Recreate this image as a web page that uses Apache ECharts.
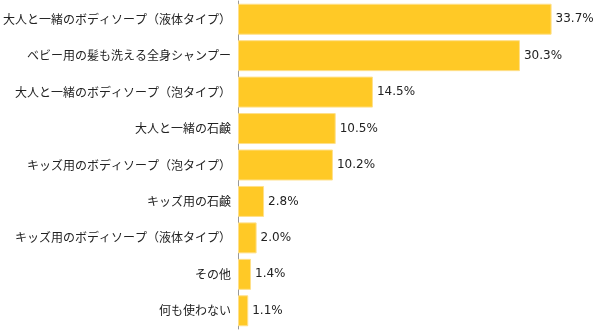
<!DOCTYPE html>
<html><head><meta charset="utf-8">
<script src="https://cdn.jsdelivr.net/npm/echarts@6/dist/echarts.min.js"></script>
<style>html,body{margin:0;padding:0;background:#fff}#c{width:600px;height:332px}</style>
</head><body><div id="c"></div>
<script>
const categories = ["大人と一緒のボディソープ（液体タイプ）","ベビー用の髪も洗える全身シャンプー","大人と一緒のボディソープ（泡タイプ）","大人と一緒の石鹸","キッズ用のボディソープ（泡タイプ）","キッズ用の石鹸","キッズ用のボディソープ（液体タイプ）","その他","何も使わない"];
const values = [33.7,30.3,14.5,10.5,10.2,2.8,2.0,1.4,1.1];
const chart = echarts.init(document.getElementById('c'));
chart.setOption({
  animation:false,
  grid:{left:235,top:1,width:338,height:328,containLabel:false},
  xAxis:{type:'value',min:0,max:36,show:false},
  yAxis:{type:'category',data:categories,inverse:true,
    axisLine:{show:true,lineStyle:{color:'#999',width:1}},
    axisTick:{show:false},
    axisLabel:{color:'#222',fontSize:12,fontFamily:'"Noto Sans CJK JP"',margin:7}},
  series:[{type:'bar',data:values,barCategoryGap:'15%',
    itemStyle:{color:'#FFC926',borderColor:'#FFE08A',borderWidth:1},
    label:{show:true,position:'right',distance:4,color:'#222',fontSize:12,fontFamily:'"DejaVu Sans"',
      formatter:p=>p.value.toFixed(1)+'%'}}]
});
</script></body></html>
